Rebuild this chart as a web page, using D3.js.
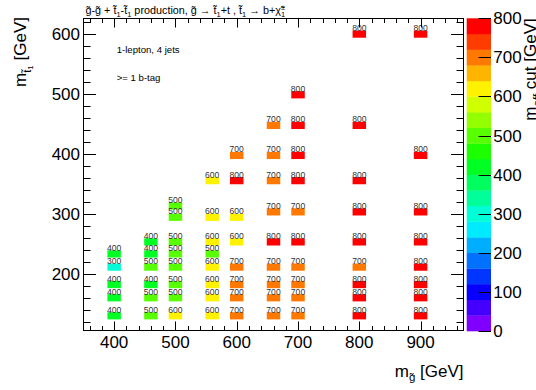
<!DOCTYPE html>
<html><head><meta charset="utf-8">
<script src="https://cdn.jsdelivr.net/npm/d3@7"></script>
<style>
body{margin:0;background:#fff;}
svg{display:block;font-family:"Liberation Sans",Arial,Helvetica,sans-serif;}
</style></head><body>
<svg id="c" width="536" height="390"></svg>
<script>
// ---- data ----
const gluinoMass = [
  400,400,400,400,400,
  460,460,460,460,460,460,
  500,500,500,500,500,500,500,500,
  560,560,560,560,560,560,560,560,
  600,600,600,600,600,600,600,600,
  660,660,660,660,660,660,660,660,660,
  700,700,700,700,700,700,700,700,700,700,
  800,800,800,800,800,800,800,800,800,
  900,900,900,900,900,900,900,900
];
const stopMass = [
  130,160,182,211,233,
  130,160,182,211,233,253,
  130,160,182,211,233,253,294,313,
  130,160,182,211,233,253,294,355,
  130,160,182,211,253,294,355,397,
  130,160,182,211,253,303,355,397,447,
  130,160,182,211,253,303,355,397,447,498,
  130,160,182,211,253,303,355,447,599,
  130,160,182,211,253,303,397,599
];
const meffCut = [
  400,400,400,300,400,
  500,500,400,500,400,400,
  600,500,500,500,500,500,500,500,
  600,600,600,600,500,600,600,600,
  700,700,700,700,600,600,800,700,
  700,700,700,700,800,700,700,700,700,
  700,700,700,700,800,700,800,800,800,800,
  800,800,800,700,800,800,800,800,800,
  800,800,800,800,800,800,800,800
];
const xTickLabels = [400,500,600,700,800,900];
const yTickLabels = [200,300,400,500,600];
const zTickLabels = [0,100,200,300,400,500,600,700,800];
const zContourEdges = [0,40,80,120,160,200,240,280,320,360,400,440,480,520,560,600,640,680,720,760];

// ---- layout ----
const svg = d3.select("#c");
const F = {l:83.5, r:463.5, t:18.5, b:330.5};
const xs = d3.scaleLinear().domain([350,970]).range([F.l, F.r]);
const ys = d3.scaleLinear().domain([105.5,625]).range([F.b, F.t]);
const zs = d3.scaleLinear().domain([0,800]).range([331, 18.3]);
const palette = zContourEdges.map((d,i)=> d3.hsl(270 - i*270/19, 1, 0.5).formatHex());
const color = d3.scaleQuantize().domain([0,800]).range(palette);

// cells
const cells = gluinoMass.map((g,i)=>({g, s:stopMass[i], v:meffCut[i]}));
const gc = svg.append("g");
gc.selectAll("rect").data(cells).join("rect")
  .attr("x", d=>xs(d.g-11)).attr("width", d=>xs(d.g+11)-xs(d.g-11))
  .attr("y", d=>ys(d.s+6)).attr("height", d=>ys(d.s-6)-ys(d.s+6))
  .attr("fill", d=>color(d.v));
gc.selectAll("text").data(cells).join("text")
  .attr("x", d=>xs(d.g)).attr("y", d=>ys(d.s+6)+0.6)
  .attr("text-anchor","middle").attr("font-size",8.6).attr("fill","#333")
  .text(d=>d.v);

// frame
svg.append("rect").attr("x",F.l).attr("y",F.t).attr("width",F.r-F.l).attr("height",F.b-F.t)
  .attr("fill","none").attr("stroke","#000").attr("stroke-width",1);

const ax = svg.append("g").attr("stroke","#000").attr("stroke-width",1);
const xMinor = d3.range(360, 970, 20);
xMinor.forEach(v=>{
  const major = v%100===0;
  const L = major?9:4.5;
  const x = Math.round(xs(v))+0.5;
  ax.append("line").attr("x1",x).attr("x2",x).attr("y1",F.b).attr("y2",F.b-L);
  ax.append("line").attr("x1",x).attr("x2",x).attr("y1",F.t).attr("y2",F.t+L);
});
const yMinor = d3.range(120, 625, 20);
yMinor.forEach(v=>{
  const major = v%100===0;
  const L = major?12.5:7;
  const y = Math.round(ys(v))+0.5;
  ax.append("line").attr("y1",y).attr("y2",y).attr("x1",F.l).attr("x2",F.l+L);
  ax.append("line").attr("y1",y).attr("y2",y).attr("x1",F.r).attr("x2",F.r-L);
});

// tick labels
svg.append("g").selectAll("text").data(xTickLabels).join("text")
  .attr("x",d=>xs(d)).attr("y",348.3).attr("text-anchor","middle")
  .attr("font-size",17).text(d=>d);
svg.append("g").selectAll("text").data(yTickLabels).join("text")
  .attr("x",80).attr("y",d=>ys(d)+6).attr("text-anchor","end")
  .attr("font-size",17).text(d=>d);

// colour bar
const cb = svg.append("g");
cb.selectAll("rect").data(zContourEdges).join("rect")
  .attr("x",466.7).attr("width",24.3)
  .attr("y",d=>zs(d+40)).attr("height",d=>zs(d)-zs(d+40)+0.3)
  .attr("fill",d=>color(d+20));
cb.selectAll("line").data(zTickLabels).join("line")
  .attr("x1",478.5).attr("x2",491).attr("y1",d=>Math.round(zs(d))+0.5).attr("y2",d=>Math.round(zs(d))+0.5)
  .attr("stroke","#000");
cb.selectAll("text").data(zTickLabels).join("text")
  .attr("x",493.3).attr("y",d=>zs(d)+6).attr("font-size",17).text(d=>d);

// helper for rich text
function rich(sel, parts){
  parts.forEach(p=>{
    const t = sel.append("tspan").text(p.t);
    if(p.dy) t.attr("dy",p.dy);
    if(p.dx) t.attr("dx",p.dx);
    if(p.fs) t.attr("font-size",p.fs);
  });
  return sel;
}
const T = "\u0303";

// title
rich(svg.append("text").attr("x",85.5).attr("y",14.3).attr("font-size",10.8), [
  {t:"g"+T+"-g"+T+" + t"+T},{t:"1",dy:2.5,fs:7.5},{t:"-t"+T,dy:-2.5},{t:"1",dy:2.5,fs:7.5},
  {t:" production, g"+T+" \u2192 t"+T,dy:-2.5},{t:"1",dy:2.5,fs:7.5},{t:"+t , t"+T,dy:-2.5},{t:"1",dy:2.5,fs:7.5},
  {t:" \u2192 b+\u03c7"+T,dy:-2.5},{t:"\u00b1",dy:-4,fs:7.5},{t:"1",dy:7,dx:-4.2,fs:7.5}
]);

// labels inside
svg.append("text").attr("x",116.7).attr("y",52.5).attr("font-size",9.6).text("1-lepton, 4 jets");
svg.append("text").attr("x",116.7).attr("y",80.5).attr("font-size",9.6).text(">= 1 b-tag");

// x title
rich(svg.append("text").attr("x",463.5).attr("y",376.7).attr("font-size",17).attr("text-anchor","end"), [
  {t:"m"},{t:"g"+T,dy:4.5,fs:11.5},{t:" [GeV]",dy:-4.5}
]);
// y title
rich(svg.append("text").attr("transform","translate(26,17) rotate(-90)").attr("font-size",17).attr("text-anchor","end"), [
  {t:"m"},{t:"t"+T,dy:4.5,fs:11.5},{t:"1",dy:2.5,fs:8},{t:" [GeV]",dy:-7}
]);
// z title
rich(svg.append("text").attr("transform","translate(536,18.3) rotate(-90)").attr("font-size",17).attr("text-anchor","end"), [
  {t:"m"},{t:"eff",dy:4.5,fs:11.5},{t:" cut [GeV]",dy:-4.5}
]);
</script>
</body></html>
